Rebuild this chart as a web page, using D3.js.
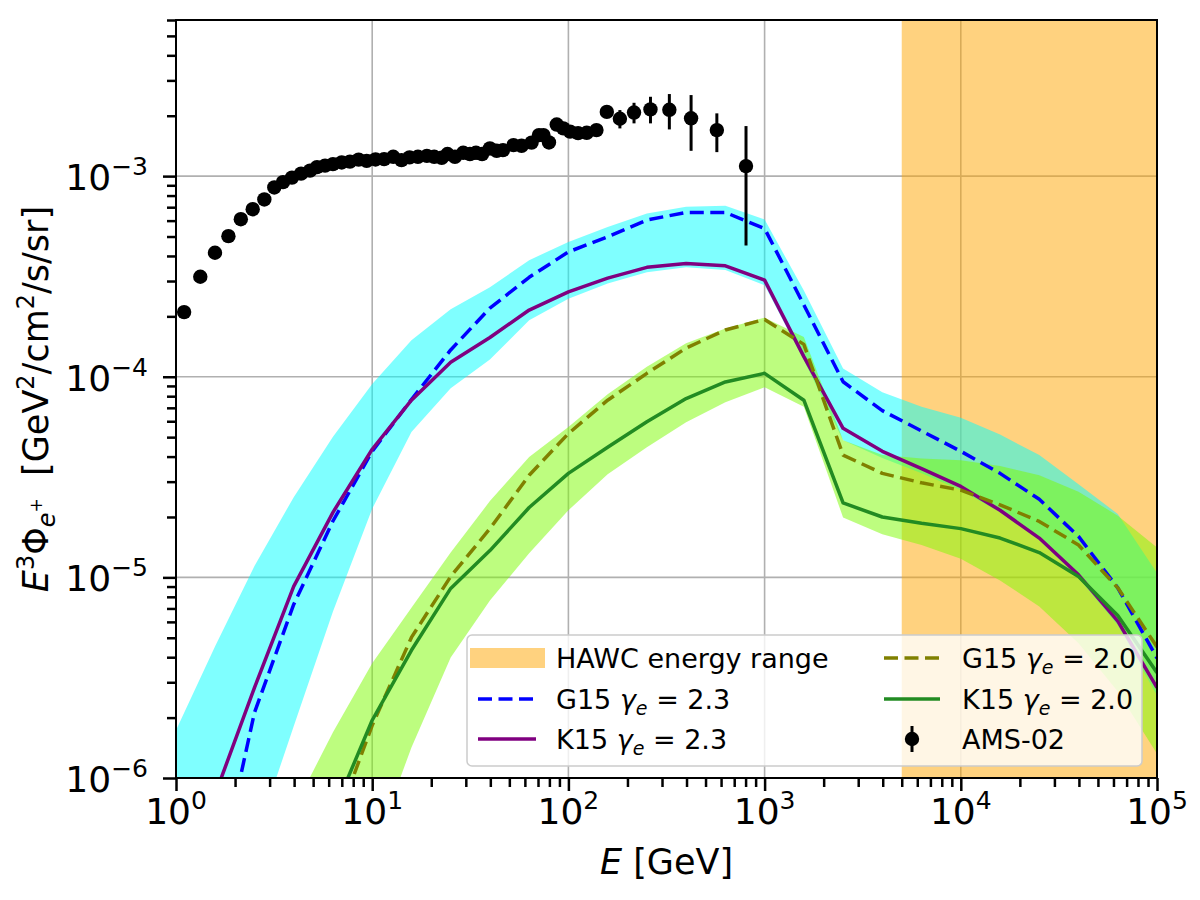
<!DOCTYPE html>
<html>
<head>
<meta charset="utf-8">
<script src="https://cdn.jsdelivr.net/npm/d3@7"></script>
<style>
  body { margin: 0; background: #fff; }
  text { font-family: "DejaVu Sans", sans-serif; fill: #000; }
</style>
</head>
<body>
<div id="chart"></div>
<script>
// energy grid of the model curves (GeV), 0.2 dex steps
var energy = [1, 1.585, 2.512, 3.981, 6.310, 10, 15.85, 25.12, 39.81, 63.10, 100, 158.5, 251.2, 398.1, 631.0,
              1000, 1585, 2512, 3981, 6310, 1e4, 15850, 25120, 39810, 63100, 1e5];

// G15, gamma_e = 2.3 (blue dashed)
var g15_23 = [null, 2.7e-7, 2.12e-6, 7.33e-6, 1.91e-5, 4.25e-5, 7.70e-5, 1.36e-4, 2.20e-4, 3.13e-4, 4.19e-4, 4.98e-4, 6.04e-4,
              6.59e-4, 6.59e-4, 5.48e-4, 2.28e-4, 9.44e-5, 6.78e-5, 5.37e-5, 4.25e-5, 3.30e-5, 2.45e-5, 1.60e-5, 8.87e-6, 3.96e-6];
// K15, gamma_e = 2.3 (purple)
var k15_23 = [null, 8.3e-7, 2.82e-6, 9.02e-6, 2.11e-5, 4.35e-5, 7.64e-5, 1.18e-4, 1.57e-4, 2.15e-4, 2.65e-4, 3.10e-4, 3.51e-4,
              3.67e-4, 3.57e-4, 3.03e-4, 1.26e-4, 5.53e-5, 4.25e-5, 3.48e-5, 2.84e-5, 2.16e-5, 1.57e-5, 1.03e-5, 6.05e-6, 2.82e-6];
// G15, gamma_e = 2.0 (olive dashed)
var g15_20 = [null, null, null, null, 5.4e-7, 1.83e-6, 5.02e-6, 1.01e-5, 1.75e-5, 3.23e-5, 5.21e-5, 7.64e-5, 1.04e-4,
              1.39e-4, 1.71e-4, 1.93e-4, 1.45e-4, 4.07e-5, 3.30e-5, 2.96e-5, 2.72e-5, 2.30e-5, 1.90e-5, 1.45e-5, 8.87e-6, 4.50e-6];
// K15, gamma_e = 2.0 (green)
var k15_20 = [null, null, null, null, 6.67e-7, 1.94e-6, 4.33e-6, 8.81e-6, 1.36e-5, 2.23e-5, 3.30e-5, 4.45e-5, 5.96e-5,
              7.78e-5, 9.42e-5, 1.04e-4, 7.64e-5, 2.35e-5, 2.00e-5, 1.86e-5, 1.75e-5, 1.57e-5, 1.33e-5, 1.01e-5, 6.46e-6, 3.35e-6];

// uncertainty band, gamma_e = 2.3 (cyan)
var band23Hi = [1.73e-6, 4.55e-6, 1.14e-5, 2.51e-5, 5.02e-5, 9.20e-5, 1.52e-4, 2.17e-4, 2.79e-4, 3.81e-4, 4.70e-4, 5.58e-4, 6.52e-4,
                7.03e-4, 7.11e-4, 6.08e-4, 2.69e-4, 1.10e-4, 8.38e-5, 7.08e-5, 6.24e-5, 5.15e-5, 4.07e-5, 2.91e-5, 2.07e-5, 1.05e-5];
var band23Lo = [3.2e-8, 1.3e-7, 4.79e-7, 1.81e-6, 6.75e-6, 2.20e-5, 5.30e-5, 8.77e-5, 1.22e-4, 1.91e-4, 2.45e-4, 2.92e-4, 3.32e-4,
                3.51e-4, 3.40e-4, 2.86e-4, 1.21e-4, 4.82e-5, 3.93e-5, 3.30e-5, 2.72e-5, 2.11e-5, 1.53e-5, 9.89e-6, 5.77e-6, 2.58e-6];
// uncertainty band, gamma_e = 2.0 (green)
var band20Hi = [null, null, null, 7.0e-7, 1.69e-6, 3.73e-6, 7.05e-6, 1.33e-5, 2.40e-5, 3.98e-5, 5.62e-5, 8.18e-5, 1.12e-4,
                1.47e-4, 1.74e-4, 1.97e-4, 1.58e-4, 4.82e-5, 4.07e-5, 3.91e-5, 3.83e-5, 3.59e-5, 3.23e-5, 2.67e-5, 2.03e-5, 1.41e-5];
var band20Lo = [null, null, null, 5.0e-8, 1.6e-7, 4.17e-7, 1.42e-6, 3.99e-6, 7.67e-6, 1.32e-5, 2.16e-5, 3.27e-5, 4.45e-5,
                5.93e-5, 7.46e-5, 8.87e-5, 7.08e-5, 1.99e-5, 1.64e-5, 1.45e-5, 1.24e-5, 9.66e-6, 7.16e-6, 4.69e-6, 2.70e-6, 1.32e-6];

// AMS-02 positron data
var amsE = [1.10, 1.33, 1.58, 1.85, 2.14, 2.46, 2.82, 3.17, 3.51, 3.90, 4.34, 4.82, 5.23, 5.75, 6.31, 6.99, 7.70, 8.53, 9.37, 10.4,
            11.5, 12.8, 14.1, 15.5, 17.1, 19.0, 20.7, 22.6, 24.2, 26.4, 29.1, 31.5, 33.8, 36.3, 39.8, 43.1, 46.4, 52.5, 57.7, 64.9,
            70.8, 74.6, 79.6, 87.2, 94.2, 102, 112, 124, 139, 157, 183, 216, 262, 327, 422, 571, 804];
var amsFlux = [2.10e-4, 3.15e-4, 4.15e-4, 5.02e-4, 6.10e-4, 6.84e-4, 7.65e-4, 8.78e-4, 9.33e-4, 9.83e-4,
               1.029e-3, 1.065e-3, 1.109e-3, 1.128e-3, 1.148e-3, 1.170e-3, 1.181e-3, 1.208e-3, 1.191e-3, 1.211e-3,
               1.216e-3, 1.248e-3, 1.202e-3, 1.240e-3, 1.248e-3, 1.262e-3, 1.248e-3, 1.234e-3, 1.288e-3, 1.248e-3,
               1.307e-3, 1.288e-3, 1.307e-3, 1.288e-3, 1.374e-3, 1.337e-3, 1.348e-3, 1.428e-3, 1.416e-3, 1.469e-3,
               1.601e-3, 1.601e-3, 1.472e-3, 1.807e-3, 1.730e-3, 1.667e-3, 1.638e-3, 1.644e-3, 1.696e-3, 2.09e-3,
               1.931e-3, 2.074e-3, 2.151e-3, 2.141e-3, 1.942e-3, 1.696e-3, 1.122e-3];
var amsErrUp = [0,0,0,0,0,0,0,0,0,0, 0,0,0,0,0,0,0,0,0,0, 0,0,0,0,0,0,0,0,0,0, 0,0,0,0,0,0,0,0,0,0, 0,0,0,0,0,0,0,0,0,
                1.2e-4, 2.03e-4, 2.46e-4, 3.35e-4, 4.24e-4, 5.93e-4, 3.59e-4, 6.54e-4];
var amsErrDn = [0,0,0,0,0,0,0,0,0,0, 0,0,0,0,0,0,0,0,0,0, 0,0,0,0,0,0,0,0,0,0, 0,0,0,0,0,0,0,0,0,0, 0,0,0,0,0,0,0,0,0,
                1.2e-4, 2.02e-4, 2.42e-4, 3.19e-4, 4.32e-4, 6.05e-4, 3.79e-4, 6.71e-4];

// HAWC energy range (GeV)
var hawcRange = [5000, 1e5];

var xTickValues = [1, 10, 100, 1e3, 1e4, 1e5];
var xTickExp = ["0", "1", "2", "3", "4", "5"];
var yTickValues = [1e-6, 1e-5, 1e-4, 1e-3];
var yTickExp = ["\u22126", "\u22125", "\u22124", "\u22123"];

var margin = {top: 20, right: 43, bottom: 122, left: 176};
var width = 1200 - margin.left - margin.right,
    height = 900 - margin.top - margin.bottom;

var svg = d3.select("#chart").append("svg")
    .attr("width", 1200)
    .attr("height", 900);

svg.append("defs").append("clipPath").attr("id", "plotclip")
  .append("rect").attr("width", width).attr("height", height);

var g = svg.append("g")
    .attr("transform", "translate(" + margin.left + "," + margin.top + ")");

var x = d3.scaleLog().domain([1, 1e5]).range([0, width]);
var y = d3.scaleLog().domain([1e-6, 6e-3]).range([height, 0]);

// grid
var grid = g.append("g").attr("stroke", "#b0b0b0").attr("stroke-width", 1.6);
grid.selectAll(".gx").data(xTickValues).enter().append("line")
    .attr("x1", function(d) { return x(d); }).attr("x2", function(d) { return x(d); })
    .attr("y1", 0).attr("y2", height);
grid.selectAll(".gy").data(yTickValues).enter().append("line")
    .attr("y1", function(d) { return y(d); }).attr("y2", function(d) { return y(d); })
    .attr("x1", 0).attr("x2", width);

var plot = g.append("g").attr("clip-path", "url(#plotclip)");

// HAWC span
plot.append("rect")
    .attr("x", x(hawcRange[0]))
    .attr("width", x(hawcRange[1]) - x(hawcRange[0]))
    .attr("y", 0).attr("height", height)
    .attr("fill", "#ffa500").attr("fill-opacity", 0.5);

function band(lo, hi) {
  return d3.area()
    .defined(function(d, i) { return lo[i] != null && hi[i] != null; })
    .x(function(d) { return x(d); })
    .y0(function(d, i) { return y(lo[i]); })
    .y1(function(d, i) { return y(hi[i]); })(energy);
}
plot.append("path").attr("d", band(band23Lo, band23Hi))
    .attr("fill", "#00ffff").attr("fill-opacity", 0.5);
plot.append("path").attr("d", band(band20Lo, band20Hi))
    .attr("fill", "#7cfc00").attr("fill-opacity", 0.5);

function curve(vals) {
  return d3.line()
    .defined(function(d, i) { return vals[i] != null; })
    .x(function(d) { return x(d); })
    .y(function(d, i) { return y(vals[i]); })(energy);
}
var series = [
  {vals: g15_23, color: "#0000ff", dash: "14,6.5"},
  {vals: k15_23, color: "#800080", dash: null},
  {vals: g15_20, color: "#808000", dash: "14,6.5"},
  {vals: k15_20, color: "#228b22", dash: null}
];
series.forEach(function(s) {
  plot.append("path")
    .attr("d", curve(s.vals))
    .attr("fill", "none")
    .attr("stroke", s.color)
    .attr("stroke-width", 3.5)
    .attr("stroke-dasharray", s.dash)
    .attr("stroke-linejoin", "round");
});

// AMS-02 points
var ams = plot.append("g");
ams.selectAll("line").data(amsE).enter().append("line")
    .attr("x1", function(d) { return x(d); }).attr("x2", function(d) { return x(d); })
    .attr("y1", function(d, i) { return y(amsFlux[i] + amsErrUp[i]); })
    .attr("y2", function(d, i) { return y(amsFlux[i] - amsErrDn[i]); })
    .attr("stroke", "#000").attr("stroke-width", 3);
ams.selectAll("circle").data(amsE).enter().append("circle")
    .attr("cx", function(d) { return x(d); })
    .attr("cy", function(d, i) { return y(amsFlux[i]); })
    .attr("r", 7.2).attr("fill", "#000");

// ticks
function minorTicks(domain) {
  var out = [];
  for (var d = domain[0]; d < domain[1]; d *= 10) {
    for (var m = 2; m <= 9; m++) { if (d * m <= domain[1] * 1.0001) out.push(d * m); }
  }
  return out;
}
function styleAxis(sel) {
  sel.select(".domain").remove();
  sel.selectAll(".tick line").attr("stroke", "#000").attr("stroke-width", 2.5);
  sel.selectAll(".tick text").remove();
}
g.append("g").attr("transform", "translate(0," + height + ")")
    .call(d3.axisBottom(x).tickValues(xTickValues).tickSize(13)).call(styleAxis);
g.append("g").attr("transform", "translate(0," + height + ")")
    .call(d3.axisBottom(x).tickValues(minorTicks([1, 1e5])).tickSize(9)).call(styleAxis);
g.append("g")
    .call(d3.axisLeft(y).tickValues(yTickValues).tickSize(13)).call(styleAxis);
g.append("g")
    .call(d3.axisLeft(y).tickValues(minorTicks([1e-6, 6e-3])).tickSize(9)).call(styleAxis);

// spines
g.append("rect").attr("width", width).attr("height", height)
    .attr("fill", "none").attr("stroke", "#000").attr("stroke-width", 2);

// tick labels
xTickValues.forEach(function(v, i) {
  var t = g.append("text").attr("x", x(v)).attr("y", height + 46)
      .attr("text-anchor", "middle").style("font-size", "36px");
  t.append("tspan").text("10");
  t.append("tspan").attr("dy", -15).style("font-size", "25px").text(xTickExp[i]);
});
yTickValues.forEach(function(v, i) {
  var t = g.append("text").attr("x", -28).attr("y", y(v) + 14)
      .attr("text-anchor", "end").style("font-size", "36px");
  t.append("tspan").text("10");
  t.append("tspan").attr("dy", -15).style("font-size", "25px").text(yTickExp[i]);
});

// axis labels
var xl = svg.append("text").attr("x", margin.left + width / 2).attr("y", 874)
    .attr("text-anchor", "middle").style("font-size", "35px");
xl.append("tspan").style("font-style", "italic").text("E");
xl.append("tspan").text(" [GeV]");

var yl = svg.append("text")
    .attr("transform", "translate(48," + (margin.top + height / 2) + ") rotate(-90)")
    .attr("text-anchor", "middle").style("font-size", "35px");
yl.append("tspan").style("font-style", "italic").text("E");
yl.append("tspan").attr("dy", -14).style("font-size", "24px").text("3");
yl.append("tspan").attr("dy", 14).text("\u03a6");
yl.append("tspan").attr("dy", 7).style("font-size", "24px").style("font-style", "italic").text("e");
yl.append("tspan").attr("dy", -13).style("font-size", "17px").text("+");
yl.append("tspan").attr("dy", 6).text("\u00a0\u00a0[GeV");
yl.append("tspan").attr("dy", -14).style("font-size", "24px").text("2");
yl.append("tspan").attr("dy", 14).text("/cm");
yl.append("tspan").attr("dy", -14).style("font-size", "24px").text("2");
yl.append("tspan").attr("dy", 14).text("/s/sr]");

// legend
var leg = svg.append("g");
leg.append("rect").attr("x", 467).attr("y", 635).attr("width", 675).attr("height", 131)
    .attr("rx", 5).attr("fill", "#fff").attr("fill-opacity", 0.8)
    .attr("stroke", "#cccccc").attr("stroke-width", 1.5);

function gammaLabel(px, py, name, val) {
  var t = leg.append("text").attr("x", px).attr("y", py).style("font-size", "27px");
  t.append("tspan").text(name + " ");
  t.append("tspan").style("font-style", "italic").text("\u03b3");
  t.append("tspan").attr("dy", 6).style("font-size", "19px").style("font-style", "italic").text("e");
  t.append("tspan").attr("dy", -6).text(" = " + val);
}
var rows = [658, 699, 739];
// column 1
leg.append("rect").attr("x", 470).attr("y", rows[0] - 10).attr("width", 75).attr("height", 20)
    .attr("fill", "#ffa500").attr("fill-opacity", 0.5);
leg.append("text").attr("x", 556).attr("y", rows[0] + 10).style("font-size", "27px").text("HAWC energy range");
leg.append("line").attr("x1", 478).attr("x2", 536).attr("y1", rows[1]).attr("y2", rows[1])
    .attr("stroke", "#0000ff").attr("stroke-width", 3.5).attr("stroke-dasharray", "14,6.5");
gammaLabel(556, rows[1] + 10, "G15", "2.3");
leg.append("line").attr("x1", 478).attr("x2", 536).attr("y1", rows[2]).attr("y2", rows[2])
    .attr("stroke", "#800080").attr("stroke-width", 3.5);
gammaLabel(556, rows[2] + 10, "K15", "2.3");
// column 2
leg.append("line").attr("x1", 884).attr("x2", 940).attr("y1", rows[0]).attr("y2", rows[0])
    .attr("stroke", "#808000").attr("stroke-width", 3.5).attr("stroke-dasharray", "14,6.5");
gammaLabel(962, rows[0] + 10, "G15", "2.0");
leg.append("line").attr("x1", 884).attr("x2", 940).attr("y1", rows[1]).attr("y2", rows[1])
    .attr("stroke", "#228b22").attr("stroke-width", 3.5);
gammaLabel(962, rows[1] + 10, "K15", "2.0");
leg.append("line").attr("x1", 912).attr("x2", 912).attr("y1", rows[2] - 13).attr("y2", rows[2] + 13)
    .attr("stroke", "#000").attr("stroke-width", 3);
leg.append("circle").attr("cx", 912).attr("cy", rows[2]).attr("r", 7.2).attr("fill", "#000");
leg.append("text").attr("x", 962).attr("y", rows[2] + 10).style("font-size", "27px").text("AMS-02");
</script>
</body>
</html>
